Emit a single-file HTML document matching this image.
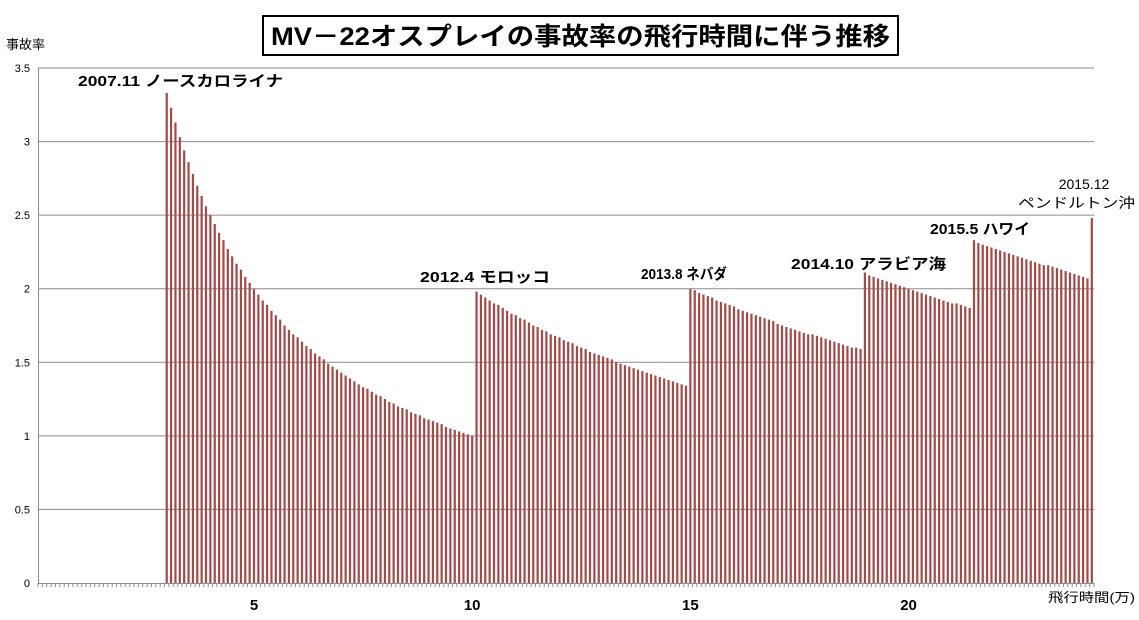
<!DOCTYPE html>
<html><head><meta charset="utf-8"><style>
html,body{margin:0;padding:0;background:#fff;}
svg text{font-family:"Liberation Sans","Noto Sans CJK JP",sans-serif;}
</style></head><body>
<svg id="chart" width="1139" height="615" viewBox="0 0 1139 615" xmlns="http://www.w3.org/2000/svg">
<rect x="263" y="16" width="635" height="39" fill="#fff" stroke="#000" stroke-width="2"/>
<text x="271" y="45" font-size="25" font-weight="bold" textLength="619" lengthAdjust="spacingAndGlyphs">MV－22オスプレイの事故率の飛行時間に伴う推移</text>
<text x="6" y="49" font-size="13">事故率</text>
<text x="1048" y="602" font-size="13" textLength="87" lengthAdjust="spacingAndGlyphs">飛行時間(万)</text>
<g id="grid"></g><g id="bars"></g><g id="axes"></g>
<g font-size="15" font-weight="bold">
<text x="78" y="86" textLength="205" lengthAdjust="spacingAndGlyphs">2007.11 ノースカロライナ</text>
<text x="420" y="282" textLength="130" lengthAdjust="spacingAndGlyphs">2012.4 モロッコ</text>
<text x="641" y="279" textLength="86" lengthAdjust="spacingAndGlyphs">2013.8 ネバダ</text>
<text x="791" y="269" textLength="155" lengthAdjust="spacingAndGlyphs">2014.10 アラビア海</text>
<text x="930" y="234" textLength="100" lengthAdjust="spacingAndGlyphs">2015.5 ハワイ</text>
</g>
<text x="1084" y="189" text-anchor="middle" font-size="14">2015.12</text>
<text x="1018" y="208" font-size="14" textLength="117" lengthAdjust="spacingAndGlyphs">ペンドルトン沖</text>
</svg>
<script>
const rates = [0,0,0,0,0,0,0,0,0,0,0,0,0,0,0,0,0,0,0,0,0,0,0,0,0,0,0,0,0,
3.33,3.23,3.13,3.03,2.94,2.86,2.78,2.70,2.63,2.56,
2.50,2.44,2.38,2.33,2.27,2.22,2.17,2.13,2.08,2.04,
2.00,1.96,1.92,1.89,1.85,1.82,1.79,1.75,1.72,1.69,
1.67,1.64,1.61,1.59,1.56,1.54,1.52,1.49,1.47,1.45,
1.43,1.41,1.39,1.37,1.35,1.33,1.32,1.30,1.28,1.27,
1.25,1.23,1.22,1.20,1.19,1.18,1.16,1.15,1.14,1.12,
1.11,1.10,1.09,1.08,1.06,1.05,1.04,1.03,1.02,1.01,1.00,
1.98,1.96,1.94,1.92,1.90,1.89,1.87,1.85,1.83,
1.82,1.80,1.79,1.77,1.75,1.74,1.72,1.71,1.69,1.68,
1.67,1.65,1.64,1.63,1.61,1.60,1.59,1.57,1.56,1.55,
1.54,1.53,1.52,1.50,1.49,1.48,1.47,1.46,1.45,1.44,
1.43,1.42,1.41,1.40,1.39,1.38,1.37,1.36,1.35,1.34,
2.00,1.99,1.97,1.96,1.95,1.94,1.92,1.91,1.90,1.89,
1.88,1.86,1.85,1.84,1.83,1.82,1.81,1.80,1.79,1.78,
1.76,1.75,1.74,1.73,1.72,1.71,1.70,1.69,1.69,1.68,
1.67,1.66,1.65,1.64,1.63,1.62,1.61,1.60,1.60,1.59,
2.11,2.09,2.08,2.07,2.06,2.05,2.04,2.03,2.02,2.01,
2.00,1.99,1.98,1.97,1.96,1.95,1.94,1.93,1.92,1.91,
1.90,1.90,1.89,1.88,1.87,
2.33,2.31,2.30,2.29,2.28,2.27,2.26,2.25,2.24,2.23,
2.22,2.21,2.20,2.19,2.18,2.17,2.16,2.16,2.15,2.14,
2.13,2.12,2.11,2.10,2.09,2.08,2.07,
2.48];
const xTickLabels = [5,10,15,20];
const yTickLabels = [0,0.5,1,1.5,2,2.5,3,3.5];
const NS='http://www.w3.org/2000/svg';
const X0=38,X1=1094,Y0=583,Y1=68,YMAX=3.5,step=0.1;
const n=rates.length, bw=(X1-X0)/n;
const xOf=i=>X0+i*bw;
const yOf=v=>Y0-(v/YMAX)*(Y0-Y1);
function mk(tag,attrs,parent){const e=document.createElementNS(NS,tag);for(const k in attrs)e.setAttribute(k,attrs[k]);parent.appendChild(e);return e;}
const grid=document.getElementById('grid'),bars=document.getElementById('bars'),axes=document.getElementById('axes');
yTickLabels.forEach(v=>{
  if(v>0){const l=mk('line',{x1:X0,x2:X1,y1:yOf(v),y2:yOf(v),stroke:'#8c8c8c','stroke-width':1},grid);
  
  }
  const t=mk('text',{x:30,y:yOf(v)+4,'text-anchor':'end','font-size':11},axes);
  t.textContent=v;
  
  
});
rates.forEach((v,i)=>{
  if(v<=0)return;
  const r=mk('rect',{x:xOf(i)+bw/2-1.1,y:yOf(v),width:2.2,height:Y0-yOf(v),fill:'#a24a48'},bars);
  
  
});
const ax=mk('line',{x1:X0,x2:X1,y1:Y0+0.5,y2:Y0+0.5,stroke:'#8c8c8c'},axes);


const ay=mk('line',{x1:X0+0.5,x2:X0+0.5,y1:Y1,y2:Y0,stroke:'#8c8c8c'},axes);


for(let i=0;i<=n;i++){
  const tk=mk('line',{x1:xOf(i),x2:xOf(i),y1:Y0,y2:Y0+4,stroke:'#8c8c8c'},axes);
  
  
}
xTickLabels.forEach(v=>{
  const i=Math.round(v/step)-1;
  const t=mk('text',{x:xOf(i)+bw/2,y:610,'text-anchor':'middle','font-size':15,'font-weight':'bold'},axes);
  t.textContent=v;
  
  
});
</script>
</body></html>
